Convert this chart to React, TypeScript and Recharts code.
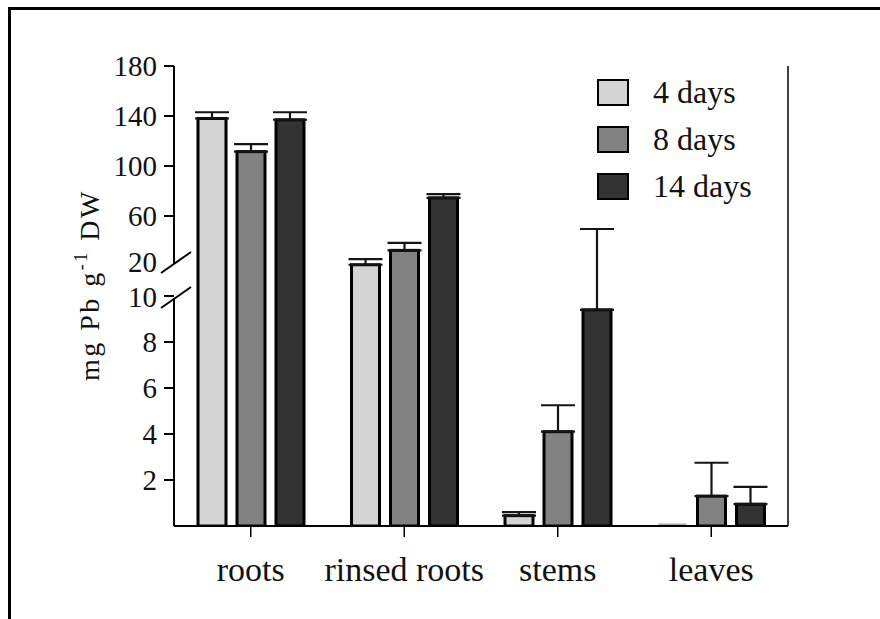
import React from "react";
import {
  BarChart,
  Bar,
  XAxis,
  YAxis,
  ErrorBar,
  Legend,
  ReferenceLine,
} from "recharts";

const FONT = '"Liberation Serif", "Times New Roman", serif';

const categories = ["roots", "rinsed roots", "stems", "leaves"];
const days4 = [138, 21, 0.45, 0];
const days8 = [111.5, 32.5, 4.1, 1.3];
const days14 = [137, 74.5, 9.4, 0.95];
const err4: (number | null)[] = [5, 4.5, 0.15, null];
const err8 = [6, 6, 1.15, 1.45];
const err14 = [6, 3, 40.2, 0.75];
const yTickLabels = [2, 4, 6, 8, 10, 20, 60, 100, 140, 180];

const seriesNames = ["4 days", "8 days", "14 days"];
const seriesColors = ["#d4d4d4", "#828282", "#333333"];

// broken axis: 0-10 lower part, 10-20 is the gap, 20-180 upper part
const LOW_MAX = 10;
const HIGH_MIN = 20;
const HIGH_MAX = 180;
const SEG_LOW = 230;
const SEG_GAP = 30;
const SEG_HIGH = 200;
const AXIS_MAX = SEG_LOW + SEG_GAP + SEG_HIGH;

function toAxis(v: number) {
  if (v <= LOW_MAX) return (v / LOW_MAX) * SEG_LOW;
  if (v < HIGH_MIN)
    return SEG_LOW + ((v - LOW_MAX) / (HIGH_MIN - LOW_MAX)) * SEG_GAP;
  return (
    SEG_LOW + SEG_GAP + ((v - HIGH_MIN) / (HIGH_MAX - HIGH_MIN)) * SEG_HIGH
  );
}

function errRange(mean: number, err: number | null) {
  if (err == null) return null;
  return [0, toAxis(mean + err) - toAxis(mean)];
}

const data = categories.map((name, i) => ({
  name,
  v4: toAxis(days4[i]),
  v8: toAxis(days8[i]),
  v14: toAxis(days14[i]),
  e4: errRange(days4[i], err4[i]),
  e8: errRange(days8[i], err8[i]),
  e14: errRange(days14[i], err14[i]),
}));

const yTicks = yTickLabels.map(toAxis);

const Y_TICK_SIZE = 10;
const Y_TICK_MARGIN = 7;

function YTick(props: any) {
  const { x, y, index } = props;
  const label = yTickLabels[index];
  const ax = x + Y_TICK_SIZE + Y_TICK_MARGIN;
  // labels either side of the break are pushed apart a little
  const shift = label === HIGH_MIN ? -4 : label === LOW_MAX ? 1 : 0;
  return (
    <g>
      {label !== HIGH_MIN && (
        <line x1={ax - Y_TICK_SIZE} y1={y} x2={ax} y2={y} stroke="#000" strokeWidth={2} />
      )}
      {label === HIGH_MIN && (
        <line x1={ax - 13} y1={y + 7} x2={ax + 17} y2={y - 14} stroke="#000" strokeWidth={2} />
      )}
      {label === LOW_MAX && (
        <line x1={ax - 13} y1={y + 12} x2={ax + 17} y2={y - 9} stroke="#000" strokeWidth={2} />
      )}
      <text
        x={x}
        y={y + shift}
        dy="0.35em"
        textAnchor="end"
        fontSize={29}
        fontFamily={FONT}
        fill="#111"
      >
        {label}
      </text>
    </g>
  );
}

function YLabel(props: any) {
  const vb = props.viewBox || { x: 0, y: 0, height: 0 };
  const cx = vb.x + 99;
  const cy = vb.y + vb.height / 2 - 11;
  return (
    <text
      x={cx}
      y={cy}
      transform={`rotate(-90, ${cx}, ${cy})`}
      textAnchor="middle"
      fontSize={28}
      fontFamily={FONT}
      letterSpacing={2.5}
      fill="#111"
    >
      mg Pb g
      <tspan dy={-12} fontSize={18}>
        -1
      </tspan>
      <tspan dy={12}> DW</tspan>
    </text>
  );
}

function BarShape(props: any) {
  const { x, y, width, height, fill } = props;
  if (!height || height <= 2) {
    const base = y + (height || 0) - 1.5;
    return (
      <line x1={x} y1={base} x2={x + width} y2={base} stroke="#a8a8a8" strokeWidth={2} />
    );
  }
  return (
    <rect x={x} y={y} width={width} height={height} fill={fill} stroke="#000" strokeWidth={3} />
  );
}

function LegendBox(props: any) {
  const payload = [...(props.payload || [])].sort(
    (a: any, b: any) => seriesNames.indexOf(a.value) - seriesNames.indexOf(b.value)
  );
  return (
    <div>
      {payload.map((entry: any) => (
        <div
          key={entry.value}
          style={{ display: "flex", alignItems: "center", height: 47 }}
        >
          <div
            style={{
              width: 32,
              height: 27,
              boxSizing: "border-box",
              border: "2.5px solid #000",
              background: entry.color,
            }}
          />
          <span
            style={{
              marginLeft: 24,
              fontSize: 32,
              fontFamily: FONT,
              color: "#111",
            }}
          >
            {entry.value}
          </span>
        </div>
      ))}
    </div>
  );
}

export default function App() {
  return (
    <div style={{ position: "fixed", inset: 0, background: "#fff" }}>
      <div
        style={{
          position: "absolute",
          left: 8,
          top: 7,
          width: 900,
          height: 700,
          borderTop: "3px solid #000",
          borderLeft: "3px solid #000",
        }}
      />
      <div style={{ position: "absolute", left: 0, top: 0 }}>
        <BarChart
          width={880}
          height={619}
          data={data}
          margin={{ top: 66, right: 91, bottom: 0, left: 0 }}
          barSize={28}
          barGap={11}
        >
          <XAxis
            xAxisId="cat"
            dataKey="name"
            height={93}
            tickSize={11}
            tickMargin={20}
            axisLine={{ stroke: "#000", strokeWidth: 2 }}
            tickLine={{ stroke: "#000", strokeWidth: 1.5 }}
            tick={{ fontSize: 34, fill: "#111", fontFamily: FONT }}
            interval={0}
          />
          <XAxis xAxisId="num" type="number" domain={[0, 1]} allowDataOverflow hide />
          <YAxis
            yAxisId="left"
            width={174}
            domain={[0, AXIS_MAX]}
            allowDataOverflow
            ticks={yTicks}
            interval={0}
            tickSize={Y_TICK_SIZE}
            tickMargin={Y_TICK_MARGIN}
            axisLine={false}
            tickLine={false}
            tick={<YTick />}
            label={YLabel}
          />
          <YAxis
            yAxisId="right"
            orientation="right"
            width={1}
            domain={[0, AXIS_MAX]}
            tick={false}
            tickLine={false}
            axisLine={{ stroke: "#000", strokeWidth: 1.5 }}
          />
          <ReferenceLine
            xAxisId="num"
            yAxisId="left"
            segment={[
              { x: 0, y: toAxis(HIGH_MAX) },
              { x: 0, y: toAxis(HIGH_MIN) + 2 },
            ]}
            stroke="#000"
            strokeWidth={2}
            ifOverflow="visible"
          />
          <ReferenceLine
            xAxisId="num"
            yAxisId="left"
            segment={[
              { x: 0, y: 0 },
              { x: 0, y: toAxis(LOW_MAX) - 2 },
            ]}
            stroke="#000"
            strokeWidth={2}
            ifOverflow="visible"
          />
          <Legend
            layout="vertical"
            align="center"
            verticalAlign="middle"
            itemSorter={(item: any) => seriesNames.indexOf(item.value)}
            wrapperStyle={{ top: 69, left: 597, width: 220, height: 150 }}
            content={LegendBox}
          />
          {["v4", "v8", "v14"].map((key, i) => (
            <Bar
              key={key}
              xAxisId="cat"
              yAxisId="left"
              dataKey={key}
              name={seriesNames[i]}
              fill={seriesColors[i]}
              shape={BarShape}
              minPointSize={i === 0 ? 2 : 0}
              isAnimationActive={false}
            >
              <ErrorBar
                dataKey={["e4", "e8", "e14"][i]}
                width={17}
                stroke="#151515"
                strokeWidth={2.2}
                isAnimationActive={false}
              />
            </Bar>
          ))}
        </BarChart>
      </div>
    </div>
  );
}
